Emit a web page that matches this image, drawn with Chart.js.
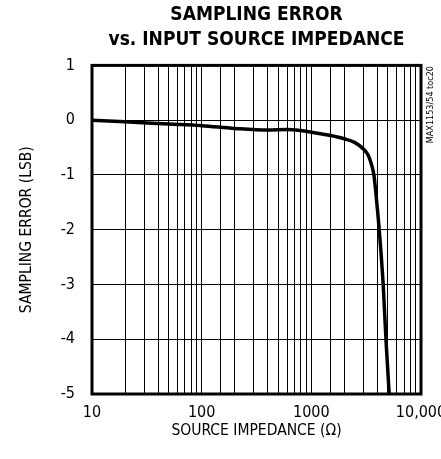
<!DOCTYPE html>
<html>
<head>
<meta charset="utf-8">
<script src="https://cdn.jsdelivr.net/npm/chart.js@4/dist/chart.umd.min.js"></script>
<style>
  html, body { margin: 0; padding: 0; background: #fff; }
  #wrap { width: 441px; height: 459px; }
</style>
</head>
<body>
<div id="wrap"><canvas id="myChart" width="441" height="459"></canvas></div>
<script>
// source impedance (ohms) and sampling error (LSB)
var impedance = [10, 20, 50, 100, 200, 400, 600, 800, 1000, 1500, 2000, 2500, 3000, 3300, 3500, 3720, 3950, 4160, 4520, 4790, 5130];
var samplingError = [0, -0.03, -0.07, -0.1, -0.15, -0.18, -0.17, -0.19, -0.22, -0.28, -0.34, -0.41, -0.53, -0.64, -0.78, -1.0, -1.5, -2.0, -3.0, -4.0, -5.0];
var xLabels = [10, 100, 1000, 10000];

var narrow = "'Liberation Sans Narrow', 'DejaVu Sans Condensed', Arial, sans-serif";

var points = [];
for (var i = 0; i < impedance.length; i++) {
    points.push({ x: impedance[i], y: samplingError[i] });
}

// thick frame around the plot + the little figure id on the right
var framePlugin = {
    id: 'frame',
    afterDatasetsDraw: function (chart) {
        var a = chart.chartArea;
        var ctx = chart.ctx;
        ctx.save();
        ctx.strokeStyle = '#000';
        ctx.lineWidth = 3;
        ctx.strokeRect(a.left, a.top, a.right - a.left, a.bottom - a.top);
        ctx.restore();
    },
    afterDraw: function (chart) {
        var ctx = chart.ctx;
        ctx.save();
        ctx.translate(431, 66);
        ctx.rotate(-Math.PI / 2);
        ctx.font = "9px " + narrow;
        ctx.fillStyle = '#000';
        ctx.textAlign = 'right';
        ctx.textBaseline = 'middle';
        ctx.fillText('MAX1153/54 toc20', 0, 0);
        ctx.restore();
    }
};

function createChart() {
    var ctx = document.getElementById("myChart").getContext("2d");
    new Chart(ctx, {
        type: 'line',
        data: {
            datasets: [{
                data: points,
                borderColor: '#000',
                borderWidth: 3.5,
                pointRadius: 0,
                cubicInterpolationMode: 'monotone',
                fill: false
            }]
        },
        options: {
            responsive: false,
            animation: false,
            layout: { padding: { left: 0, right: 0, top: 0, bottom: 0 } },
            plugins: {
                legend: { display: false },
                tooltip: { enabled: false },
                title: {
                    display: true,
                    fullSize: false,
                    text: ['SAMPLING ERROR', 'vs. INPUT SOURCE IMPEDANCE'],
                    color: '#000',
                    font: { family: narrow, size: 19, weight: 'bold', lineHeight: 1.3 },
                    padding: { top: 3, bottom: 13 }
                }
            },
            scales: {
                x: {
                    type: 'logarithmic',
                    min: 10,
                    max: 10000,
                    afterFit: function (scale) {
                        scale.height = 65;
                        scale.paddingLeft = 0;
                        scale.paddingRight = 20;
                    },
                    grid: { color: '#000', lineWidth: 1, drawTicks: false },
                    border: { display: false },
                    ticks: {
                        autoSkip: false,
                        maxRotation: 0,
                        padding: 11,
                        color: '#000',
                        font: { family: narrow, size: 16, lineHeight: 1 },
                        callback: function (value) {
                            if (xLabels.indexOf(value) < 0) return '';
                            return value >= 10000 ? '10,000' : String(value);
                        }
                    },
                    title: {
                        display: true,
                        text: 'SOURCE IMPEDANCE (\u03A9)',
                        color: '#000',
                        font: { family: narrow, size: 15.5, lineHeight: 1 },
                        padding: { top: 0, bottom: 20 }
                    }
                },
                y: {
                    min: -5,
                    max: 1,
                    afterFit: function (scale) { scale.width = 92; },
                    grid: { color: '#000', lineWidth: 1, drawTicks: false },
                    border: { display: false },
                    ticks: {
                        stepSize: 1,
                        padding: 17,
                        color: '#000',
                        font: { family: narrow, size: 16, lineHeight: 1 }
                    },
                    title: {
                        display: true,
                        text: 'SAMPLING ERROR (LSB)',
                        color: '#000',
                        font: { family: narrow, size: 15.5, lineHeight: 1 },
                        padding: { top: 19, bottom: 10 }
                    }
                }
            }
        },
        plugins: [framePlugin]
    });
}
createChart();
</script>
</body>
</html>
